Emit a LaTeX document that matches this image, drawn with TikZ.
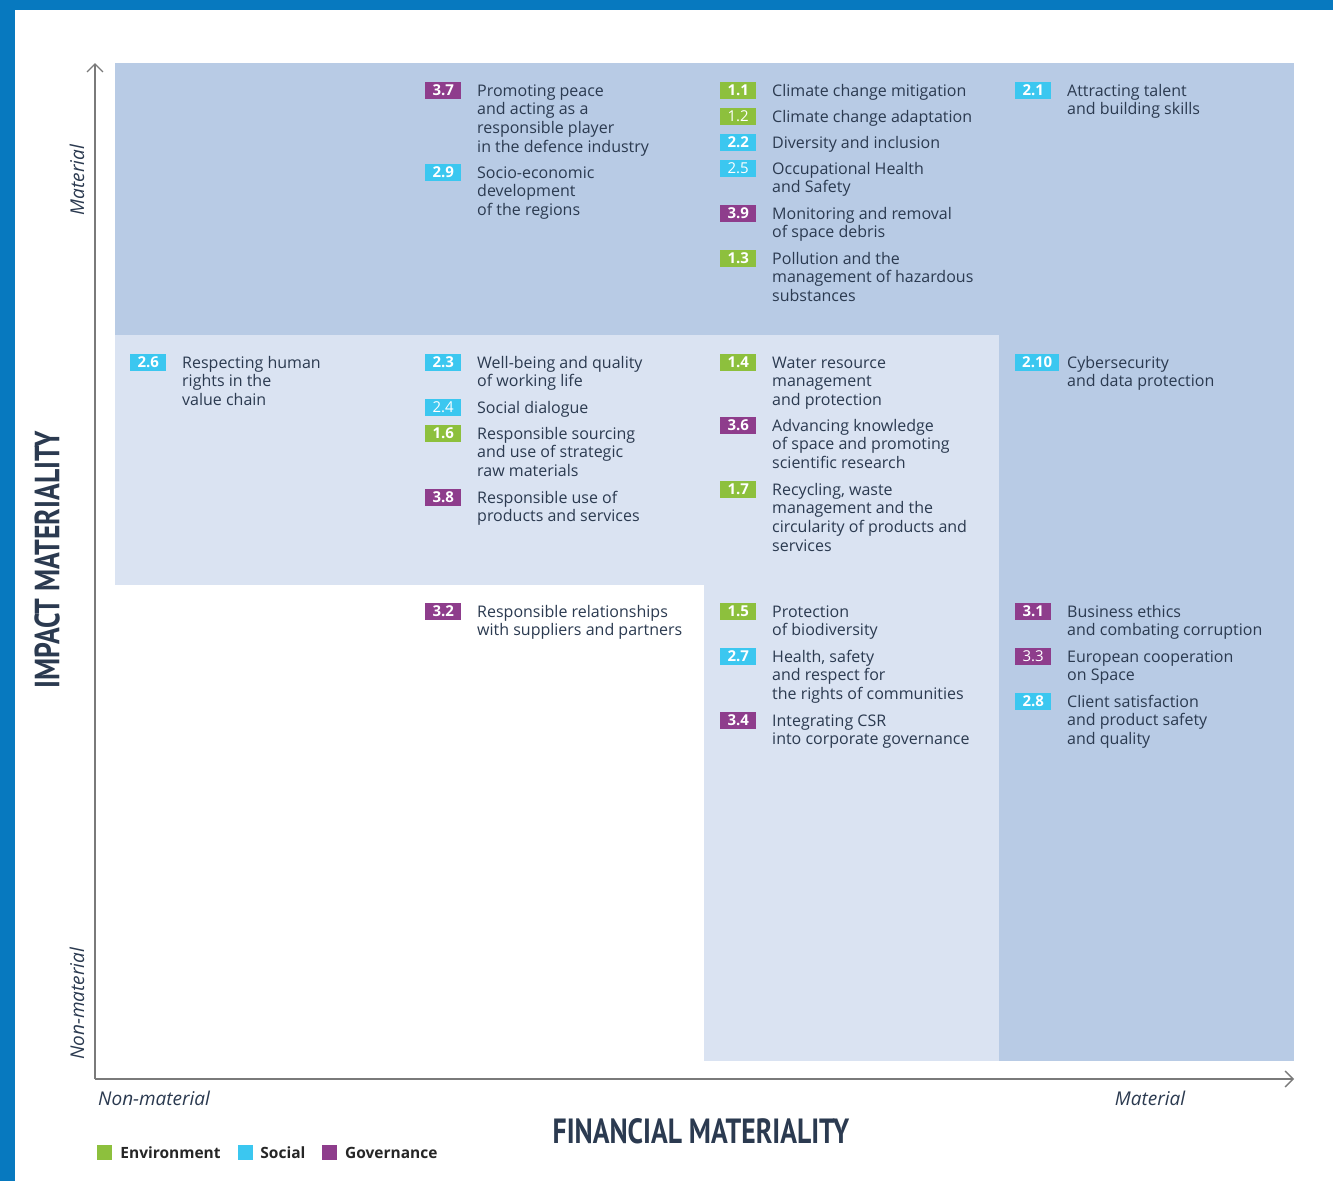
\documentclass[tikz,border=0pt]{standalone}
\usepackage{fontspec}
\setmainfont{Open Sans}
\newfontfamily\titlefont[FakeStretch=0.79]{PT Sans}
\usetikzlibrary{positioning,arrows.meta}
\definecolor{frameblue}{HTML}{0779BF}
\definecolor{darkzone}{HTML}{B8CBE5}
\definecolor{lightzone}{HTML}{DAE3F2}
\definecolor{envgreen}{HTML}{8DC03D}
\definecolor{socblue}{HTML}{3BC7F0}
\definecolor{govpurple}{HTML}{8E3D8C}
\definecolor{navy}{HTML}{2B3A50}
\definecolor{axisgray}{HTML}{7A7A7A}
\begin{document}
\begin{tikzpicture}[x=1pt,y=-1pt,
    badge/.style={rectangle,fill=#1,text=white,minimum width=36pt,minimum height=17pt,
      inner xsep=7pt,inner ysep=0pt,anchor=west},
    topic/.style={align=left,text=navy,inner sep=0pt,anchor=north west,
      font=\fontsize{16}{18.7}\selectfont},
    axisline/.style={draw=axisgray,line width=1.3pt,-{Straight Barb[length=8pt,width=16pt]}},
    sidelabel/.style={text=navy,inner sep=0pt,font=\fontsize{19}{19}\selectfont\itshape},
    axistitle/.style={text=navy,font=\fontsize{35}{35}\selectfont\titlefont\bfseries},
    legsq/.style={rectangle,minimum size=15pt,inner sep=0pt,fill=#1},
    legtxt/.style={inner sep=0pt,text=black!85,font=\fontsize{15.5}{15.5}\selectfont\bfseries}]
    \useasboundingbox (0,0) rectangle (1333,1181);
    \fill[white] (0,0) rectangle (1333,1181);
    \fill[frameblue] (0,0) rectangle (15,1181);
    \fill[frameblue] (0,0) rectangle (1333,10);
    % zones
    \fill[darkzone] (115,63) rectangle (1294,335);
    \fill[lightzone] (115,335) rectangle (999,585);
    \fill[lightzone] (704,585) rectangle (999,1061);
    \fill[darkzone] (999,335) rectangle (1294,1061);
    % axes
    \coordinate (origin) at (95,1079);
    \coordinate (ytop) at (95,63);
    \coordinate (xend) at (1294,1079);
    \draw[axisline] (origin) -- (ytop);
    \draw[axisline] (origin) -- (xend);
    \node[sidelabel,rotate=90] (ymat) at (77,180) {Material};
    \node[sidelabel,rotate=90] (ynon) at (77,1004) {Non-material};
    \node[sidelabel,anchor=west] (xnon) at (98,1098) {Non-material};
    \node[sidelabel] (xmat) at (1150,1098) {Material};
    \node[axistitle,rotate=90] (ytitle) at (47,560) {IMPACT MATERIALITY};
    \node[axistitle] (xtitle) at (701,1131) {FINANCIAL MATERIALITY};
    % first column
    \foreach \y/\n/\c/\wt/\t [count=\i] in {
      362/2.6/socblue/\bfseries/{Respecting human\\rights in the\\value chain}}{
      \node[badge=\c,font=\fontsize{15}{15}\selectfont\wt] (bA\i) at (130,\y) {\n};
      \node[topic] (tA\i) at ([xshift=52pt,yshift=12.5pt]bA\i.base west) {\strut\t};}
    % second column
    \foreach \y/\n/\c/\wt/\t [count=\i] in {
      90/3.7/govpurple/\bfseries/{Promoting peace\\and acting as a\\responsible player\\in the defence industry},
      172/2.9/socblue/\bfseries/{Socio-economic\\development\\of the regions},
      362/2.3/socblue/\bfseries/{Well-being and quality\\of working life},
      407/2.4/socblue/\mdseries/{Social dialogue},
      433/1.6/envgreen/\bfseries/{Responsible sourcing\\and use of strategic\\raw materials},
      497/3.8/govpurple/\bfseries/{Responsible use of\\products and services},
      611/3.2/govpurple/\bfseries/{Responsible relationships\\with suppliers and partners}}{
      \node[badge=\c,font=\fontsize{15}{15}\selectfont\wt] (bB\i) at (425,\y) {\n};
      \node[topic] (tB\i) at ([xshift=52pt,yshift=12.5pt]bB\i.base west) {\strut\t};}
    % third column
    \foreach \y/\n/\c/\wt/\t [count=\i] in {
      90/1.1/envgreen/\bfseries/{Climate change mitigation},
      116/1.2/envgreen/\mdseries/{Climate change adaptation},
      142/2.2/socblue/\bfseries/{Diversity and inclusion},
      168/2.5/socblue/\mdseries/{Occupational Health\\and Safety},
      213/3.9/govpurple/\bfseries/{Monitoring and removal\\of space debris},
      258/1.3/envgreen/\bfseries/{Pollution and the\\management of hazardous\\substances},
      362/1.4/envgreen/\bfseries/{Water resource\\management\\and protection},
      425/3.6/govpurple/\bfseries/{Advancing knowledge\\of space and promoting\\scientific research},
      489/1.7/envgreen/\bfseries/{Recycling, waste\\management and the\\circularity of products and\\services},
      611/1.5/envgreen/\bfseries/{Protection\\of biodiversity},
      656/2.7/socblue/\bfseries/{Health, safety\\and respect for\\the rights of communities},
      720/3.4/govpurple/\bfseries/{Integrating CSR\\into corporate governance}}{
      \node[badge=\c,font=\fontsize{15}{15}\selectfont\wt] (bC\i) at (720,\y) {\n};
      \node[topic] (tC\i) at ([xshift=52pt,yshift=12.5pt]bC\i.base west) {\strut\t};}
    % fourth column
    \foreach \y/\n/\c/\wt/\t [count=\i] in {
      90/2.1/socblue/\bfseries/{Attracting talent\\and building skills},
      362/2.10/socblue/\bfseries/{Cybersecurity\\and data protection},
      611/3.1/govpurple/\bfseries/{Business ethics\\and combating corruption},
      656/3.3/govpurple/\mdseries/{European cooperation\\on Space},
      701/2.8/socblue/\bfseries/{Client satisfaction\\and product safety\\and quality}}{
      \node[badge=\c,font=\fontsize{15}{15}\selectfont\wt] (bD\i) at (1015,\y) {\n};
      \node[topic] (tD\i) at ([xshift=52pt,yshift=12.5pt]bD\i.base west) {\strut\t};}
    % legend
    \node[legsq=envgreen] (lgenv) at (104.5,1152.5) {};
    \node[legtxt,right=8pt of lgenv] (ltenv) {Environment};
    \node[legsq=socblue,right=17pt of ltenv] (lgsoc) {};
    \node[legtxt,right=7pt of lgsoc] (ltsoc) {Social};
    \node[legsq=govpurple,right=16pt of ltsoc] (lggov) {};
    \node[legtxt,right=8pt of lggov] (ltgov) {Governance};
\end{tikzpicture}
\end{document}
